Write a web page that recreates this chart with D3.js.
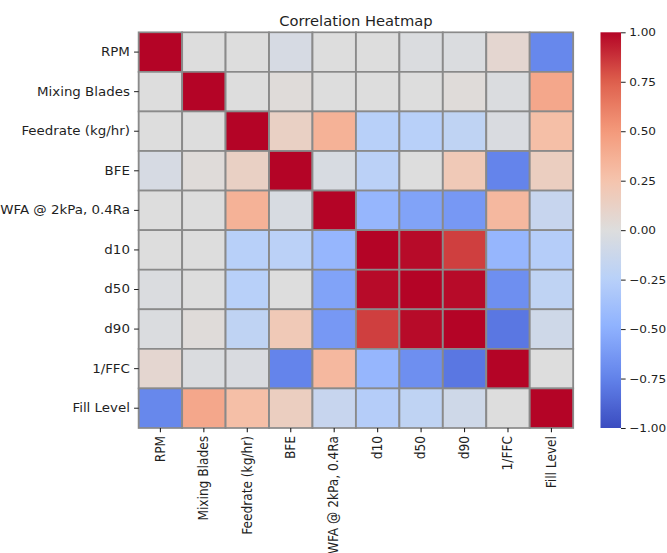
<!DOCTYPE html>
<html>
<head>
<meta charset="utf-8">
<script src="https://cdn.jsdelivr.net/npm/d3@7"></script>
<style>
  html, body { margin: 0; padding: 0; background: #fff; }
  svg { display: block; font-family: "DejaVu Sans", sans-serif; }
</style>
</head>
<body>
<svg id="chart" width="667" height="553"></svg>
<script>
// Variables in the correlation matrix (rows top to bottom, columns left to right)
const variables = ["RPM", "Mixing Blades", "Feedrate (kg/hr)", "BFE", "WFA @ 2kPa, 0.4Ra",
                   "d10", "d50", "d90", "1/FFC", "Fill Level"];

// Pearson correlation coefficients, one row per variable
const rowRPM      = [ 1.00,  0.00,  0.00, -0.05,  0.00,  0.00, -0.02, -0.02,  0.07, -0.72];
const rowBlades   = [ 0.00,  1.00,  0.00,  0.02,  0.00,  0.00,  0.00,  0.02, -0.02,  0.42];
const rowFeedrate = [ 0.00,  0.00,  1.00,  0.13,  0.36, -0.25, -0.25, -0.20, -0.03,  0.28];
const rowBFE      = [-0.05,  0.02,  0.13,  1.00, -0.04, -0.23,  0.00,  0.20, -0.74,  0.15];
const rowWFA      = [ 0.00,  0.00,  0.36, -0.04,  1.00, -0.45, -0.57, -0.63,  0.32, -0.15];
const rowD10      = [ 0.00,  0.00, -0.25, -0.23, -0.45,  1.00,  0.98,  0.84, -0.45, -0.27];
const rowD50      = [-0.02,  0.00, -0.25,  0.00, -0.57,  0.98,  1.00,  0.98, -0.68, -0.20];
const rowD90      = [-0.02,  0.02, -0.20,  0.20, -0.63,  0.84,  0.98,  1.00, -0.80, -0.10];
const rowFFC      = [ 0.07, -0.02, -0.03, -0.74,  0.32, -0.45, -0.68, -0.80,  1.00,  0.00];
const rowFill     = [-0.72,  0.42,  0.28,  0.15, -0.15, -0.27, -0.20, -0.10,  0.00,  1.00];

const matrix = [rowRPM, rowBlades, rowFeedrate, rowBFE, rowWFA, rowD10, rowD50, rowD90, rowFFC, rowFill];

// Colour bar ticks
const colorbarTicks = [-1.00, -0.75, -0.50, -0.25, 0.00, 0.25, 0.50, 0.75, 1.00];

const chartTitle = "Correlation Heatmap";

// Diverging "coolwarm" palette sampled at regular steps over [-1, 1]
const coolwarmStops = ["#3b4cc0", "#6282ea", "#8db0fe", "#b8d0f9", "#dddddd",
                       "#f5c4ad", "#f49a7b", "#de604d", "#b40426"];
const coolwarm = d3.scaleLinear()
  .domain(d3.range(coolwarmStops.length).map(i => -1 + 2 * i / (coolwarmStops.length - 1)))
  .range(coolwarmStops)
  .interpolate(d3.interpolateRgb)
  .clamp(true);

const svg = d3.select("#chart");

// The whole figure is drawn on a square grid and then widened horizontally
const stretchX = 1.098;
const root = svg.append("g").attr("transform", `scale(${stretchX},1)`);

const fontSize = 12.2;
const tickColor = "#1f1f1f";
const tickLen = 4.2, tickPad = 3.8;
const plot = { left: 126.3, top: 32.3, size: 395.7 };
const x = d3.scaleBand().domain(variables).range([plot.left, plot.left + plot.size]);
const y = d3.scaleBand().domain(variables).range([plot.top, plot.top + plot.size]);

const cells = [];
matrix.forEach((row, i) => row.forEach((v, j) => cells.push({ r: variables[i], c: variables[j], v })));

// Heatmap cells with grey separators
root.append("g")
  .selectAll("rect")
  .data(cells)
  .join("rect")
  .attr("x", d => x(d.c))
  .attr("y", d => y(d.r))
  .attr("width", x.bandwidth())
  .attr("height", y.bandwidth())
  .attr("fill", d => coolwarm(d.v))
  .attr("stroke", "#8a8a8a")
  .attr("stroke-width", 1.7);

// Axes
const yAxis = root.append("g")
  .attr("transform", `translate(${plot.left},0)`)
  .call(d3.axisLeft(y).tickSize(tickLen).tickPadding(tickPad));
const xAxis = root.append("g")
  .attr("transform", `translate(0,${plot.top + plot.size})`)
  .call(d3.axisBottom(x).tickSize(tickLen).tickPadding(tickPad));

[xAxis, yAxis].forEach(g => {
  g.select(".domain").remove();
  g.selectAll(".tick line").attr("stroke", tickColor).attr("stroke-width", 1);
  g.selectAll(".tick text")
    .attr("fill", tickColor)
    .style("font-family", "'DejaVu Sans', sans-serif")
    .style("font-size", fontSize + "px");
});

xAxis.selectAll(".tick text")
  .attr("transform", "rotate(-90)")
  .attr("text-anchor", "end")
  .attr("x", -(tickLen + tickPad))
  .attr("y", 0)
  .attr("dy", "0.32em");

// Title
root.append("text")
  .attr("x", plot.left + plot.size / 2)
  .attr("y", 26.5)
  .attr("text-anchor", "middle")
  .attr("fill", tickColor)
  .style("font-size", "13.4px")
  .text(chartTitle);

// Colour bar
const cb = { left: 546.9, width: 18.7 };
const cbScale = d3.scaleLinear().domain([-1, 1]).range([plot.top + plot.size, plot.top]);

const grad = svg.append("defs").append("linearGradient")
  .attr("id", "cbGrad")
  .attr("x1", 0).attr("y1", 1).attr("x2", 0).attr("y2", 0);
d3.range(0, 1.0001, 0.02).forEach(t => {
  grad.append("stop")
    .attr("offset", t)
    .attr("stop-color", coolwarm(-1 + 2 * t));
});

root.append("rect")
  .attr("x", cb.left)
  .attr("y", plot.top)
  .attr("width", cb.width)
  .attr("height", plot.size)
  .attr("fill", "url(#cbGrad)");

const cbAxis = root.append("g")
  .attr("transform", `translate(${cb.left + cb.width},0)`)
  .call(d3.axisRight(cbScale).tickValues(colorbarTicks).tickFormat(d3.format(".2f")).tickSize(tickLen).tickPadding(3.2));
cbAxis.select(".domain").remove();
cbAxis.selectAll(".tick line").attr("stroke", tickColor);
cbAxis.selectAll(".tick text")
  .attr("fill", tickColor)
  .style("font-family", "'DejaVu Sans', sans-serif")
  .style("font-size", "11px");
</script>
</body>
</html>
